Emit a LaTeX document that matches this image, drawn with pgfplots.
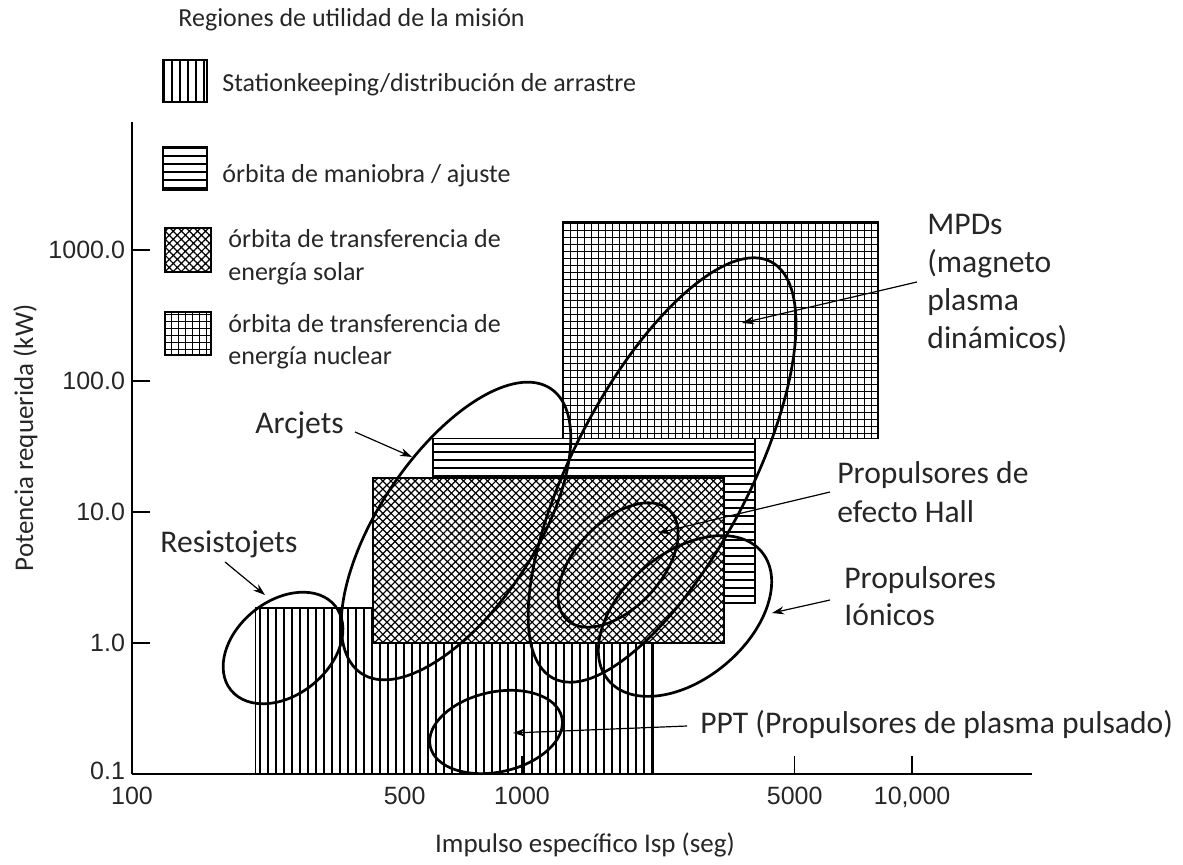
\documentclass[border=0pt]{standalone}
\usepackage{fontspec}
\setmainfont{Carlito}
\newfontfamily\tickfont{Liberation Sans}
\usepackage{pgfplots}
\pgfplotsset{compat=1.18}
\usetikzlibrary{patterns,patterns.meta,arrows.meta}

% tall / wide tiles so the hatching has no seams
\pgfdeclarepatternformonly{vlines}{\pgfpoint{-0.1pt}{-0.1pt}}{\pgfpoint{4.1pt}{200.1pt}}{\pgfpoint{4pt}{200pt}}{%
  \pgfsetlinewidth{0.75pt}%
  \pgfpathmoveto{\pgfpoint{2pt}{-0.1pt}}\pgfpathlineto{\pgfpoint{2pt}{200.1pt}}\pgfusepath{stroke}}
\pgfdeclarepatternformonly{hlines}{\pgfpoint{-0.1pt}{-0.1pt}}{\pgfpoint{200.1pt}{4.1pt}}{\pgfpoint{200pt}{4pt}}{%
  \pgfsetlinewidth{0.75pt}%
  \pgfpathmoveto{\pgfpoint{-0.1pt}{2pt}}\pgfpathlineto{\pgfpoint{200.1pt}{2pt}}\pgfusepath{stroke}}
\pgfdeclarepatternformonly{gridlines}{\pgfpoint{-0.1pt}{-0.1pt}}{\pgfpoint{35.1pt}{35.1pt}}{\pgfpoint{35pt}{35pt}}{%
  \pgfsetlinewidth{0.6pt}%
  \foreach \k in {0,...,9}{%
    \pgfpathmoveto{\pgfpoint{\k*3.5pt+1.75pt}{-0.1pt}}\pgfpathlineto{\pgfpoint{\k*3.5pt+1.75pt}{35.1pt}}%
    \pgfpathmoveto{\pgfpoint{-0.1pt}{\k*3.5pt+1.75pt}}\pgfpathlineto{\pgfpoint{35.1pt}{\k*3.5pt+1.75pt}}}%
  \pgfusepath{stroke}}

% pattern styles for the four mission regions
\tikzset{
  pvert/.style={pattern=vlines},
  phorz/.style={pattern=hlines},
  psolar/.style={pattern={Hatch[angle=45,distance=2.85pt,line width=0.6pt]}},
  pnuc/.style={pattern=gridlines},
  ann/.style={anchor=base west, inner sep=0pt, font=\fontsize{15.8}{18}\selectfont},
  leg/.style={anchor=base west, inner sep=0pt, font=\fontsize{13}{16}\selectfont},
}

\begin{document}
\begin{tikzpicture}
\useasboundingbox (0,0) rectangle (591.5pt,432pt);
\begin{axis}[
  at={(66pt,45pt)}, anchor=south west,
  scale only axis, width=450pt, height=326pt,
  xmode=log, ymode=log,
  xmin=100, xmax=20300, ymin=0.1, ymax=9480,
  axis x line*=bottom, axis y line*=left,
  axis line style={line width=0.8pt, -},
  tick align=inside, major tick length=9pt,
  tick style={line width=0.6pt, black},
  xminorticks=false, yminorticks=false,
  xtick={100,500,1000,5000,10000},
  xticklabels={100,500,1000,5000,{10,000}},
  ytick={0.1,1,10,100,1000},
  yticklabels={\raisebox{3pt}{0.1},1.0,10.0,100.0,1000.0},
  /pgf/number format/assume math mode=true,
  ticklabel style={font=\tickfont\fontsize{12.5}{14}\selectfont, text=black!85},
  xticklabel style={yshift=-3pt},
  clip=false,
]
% Stationkeeping / drag makeup
\addplot[draw=black, line width=0.6pt, pvert] coordinates {(207,0.1) (2167,0.1) (2167,1.85) (207,1.85)} -- cycle;
% orbit raising / maneuvering
\addplot[draw=black, line width=0.6pt, phorz] coordinates {(591,2.02) (3957,2.02) (3957,36.5) (591,36.5)} -- cycle;
% solar electric orbit transfer
\addplot[draw=none, fill=white] coordinates {(415,1.0) (3295,1.0) (3295,18.2) (415,18.2)} -- cycle;
\addplot[draw=black, line width=0.6pt, psolar] coordinates {(415,1.0) (3295,1.0) (3295,18.2) (415,18.2)} -- cycle;
% nuclear electric orbit transfer
\addplot[draw=none, fill=white] coordinates {(1274,36.5) (8181,36.5) (8181,1636) (1274,1636)} -- cycle;
\addplot[draw=black, line width=0.6pt, pnuc] coordinates {(1274,36.5) (8181,36.5) (8181,1636) (1274,1636)} -- cycle;

% thruster regions
\draw[line width=1.35pt] (axis cs:243.9,0.916) ellipse [x radius=33.5pt, y radius=23.5pt, rotate=39];
\draw[line width=1.35pt] (axis cs:677.2,7.16) ellipse [x radius=85.5pt, y radius=39pt, rotate=56.4];
\draw[line width=1.35pt] (axis cs:2286,20.92) ellipse [x radius=117.5pt, y radius=44pt, rotate=62.4];
\draw[line width=1.35pt] (axis cs:1763,3.94) ellipse [x radius=37.5pt, y radius=21.5pt, rotate=47];
\draw[line width=1.35pt] (axis cs:2617,1.607) ellipse [x radius=50pt, y radius=31.5pt, rotate=40];
\draw[line width=1.35pt] (axis cs:857.8,0.2093) ellipse [x radius=33.7pt, y radius=20pt, rotate=12.4];

% pointers
\begin{scope}[line width=0.6pt, -{Stealth[length=6pt,width=4pt]}]
\draw (axis cs:373.1,40.8) -- (axis cs:522.3,26.3);
\draw (axis cs:173.2,4.153) -- (axis cs:219.3,2.325);
\draw (axis cs:10300,569.9) -- (axis cs:3665,277.1);
\draw (axis cs:6162,14.21) -- (axis cs:2232,6.915);
\draw (axis cs:6162,2.129) -- (axis cs:4375,1.694);
\draw (axis cs:2649,0.2325) -- (axis cs:948.2,0.2056);
\end{scope}
\end{axis}

% texts and legend in pixel units of the reference (origin top left)
\begin{scope}[shift={(0pt,432pt)}, x=0.5pt, y=-0.5pt, text=black!85]
\node[anchor=base, rotate=90, inner sep=0pt, font=\fontsize{13.5}{16}\selectfont] at (33,438) {Potencia requerida (kW)};
\node[anchor=base, inner sep=0pt, font=\fontsize{13.5}{16}\selectfont] at (585,852) {Impulso específico Isp (seg)};

\node[anchor=base west, inner sep=0pt, font=\fontsize{13}{16}\selectfont] at (178,27) {Regiones de utilidad de la misión};
\draw[line width=0.6pt, pvert] (163,60) rectangle (207,102);
\node[leg] at (222,92) {Stationkeeping/distribución de arrastre};
\draw[line width=0.6pt, phorz] (163,147) rectangle (207,190);
\node[leg] at (222,182) {órbita de maniobra / ajuste};
\draw[line width=0.6pt, psolar] (165,228) rectangle (211,272);
\node[leg] at (228,247) {órbita de transferencia de};
\node[leg] at (228,281) {energía solar};
\draw[line width=0.6pt, pnuc] (165,312) rectangle (211,355);
\node[leg] at (228,332) {órbita de transferencia de};
\node[leg] at (228,364) {energía nuclear};

\node[ann] at (927,234) {MPDs};
\node[ann] at (927,272) {(magneto};
\node[ann] at (927,310) {plasma};
\node[ann] at (927,348) {dinámicos)};
\node[ann] at (255,433) {Arcjets};
\node[ann] at (160,552) {Resistojets};
\node[ann] at (837,483) {Propulsores de};
\node[ann] at (837,522) {efecto Hall};
\node[ann] at (844,588) {Propulsores};
\node[ann] at (844,625) {Iónicos};
\node[ann] at (700,733) {PPT (Propulsores de plasma pulsado)};
\end{scope}
\end{tikzpicture}
\end{document}
